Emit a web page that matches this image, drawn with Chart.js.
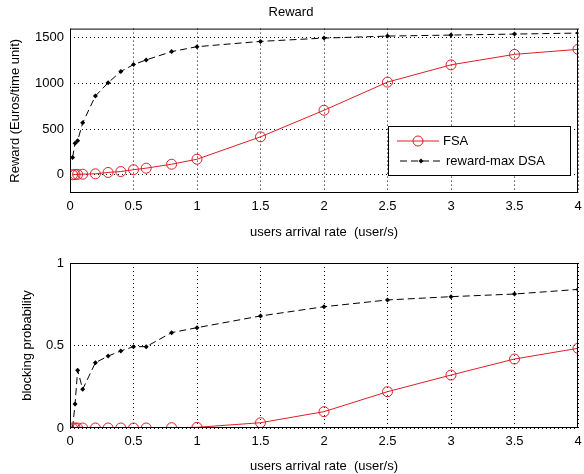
<!DOCTYPE html>
<html>
<head>
<meta charset="utf-8">
<script src="https://cdn.jsdelivr.net/npm/chart.js@4"></script>
<style>
  html, body { margin: 0; padding: 0; background: #fff; }
  .box { position: absolute; left: 0; width: 584px; }
  #top { top: 0; height: 240px; }
  #bottom { top: 240px; height: 234px; }
</style>
</head>
<body>
<div class="box" id="top"><canvas id="reward-chart"></canvas></div>
<div class="box" id="bottom"><canvas id="blocking-chart"></canvas></div>
<script>
// arrival rates (user/s)
const rates = [0.02, 0.04, 0.06, 0.1, 0.2, 0.3, 0.4, 0.5, 0.6, 0.8, 1, 1.5, 2, 2.5, 3, 3.5, 4];

// reward (Euros/time unit)
const rewardFSA = [0, 2, 4, 6, 10, 25, 35, 55, 72, 115, 170, 415, 706, 1014, 1203, 1318, 1373];
const rewardDSA = [188, 344, 373, 568, 862, 1007, 1130, 1206, 1257, 1348, 1402, 1460, 1496, 1518, 1529, 1540, 1551];

// blocking probability
const blockFSA = [0, 0, 0, 0, 0, 0, 0, 0, 0, 0.002, 0.004, 0.032, 0.099, 0.22, 0.321, 0.418, 0.483];
const blockDSA = [0, 0.145, 0.35, 0.235, 0.396, 0.436, 0.467, 0.493, 0.493, 0.578, 0.608, 0.679, 0.735, 0.776, 0.796, 0.812, 0.84];

const xTicks = [0, 0.5, 1, 1.5, 2, 2.5, 3, 3.5, 4];
const rewardTicks = [0, 500, 1000, 1500];
const blockTicks = [0, 0.5, 1];

const FONT = "'Liberation Sans', Arial, sans-serif";
const RED = "rgb(222, 30, 40)";

function toPoints(xs, ys) {
  return xs.map((x, i) => ({ x: x, y: ys[i] }));
}

function fsaSet(values) {
  return {
    label: "FSA",
    data: toPoints(rates, values),
    borderColor: RED,
    backgroundColor: "rgba(0,0,0,0)",
    borderWidth: 1,
    pointStyle: "circle",
    pointRadius: 5,
    pointBorderWidth: 1,
    pointBorderColor: RED,
    showLine: true,
  };
}

function dsaSet(values) {
  return {
    label: "reward-max DSA",
    data: toPoints(rates, values),
    borderColor: "#000",
    backgroundColor: "#000",
    borderWidth: 1,
    borderDash: [7, 4],
    pointStyle: "rectRot",
    pointRadius: 2.5,
    pointBorderWidth: 0,
    showLine: true,
  };
}

// box around the plot area, like matlab
const frame = {
  id: "frame",
  afterDraw(chart) {
    const { ctx, chartArea: a } = chart;
    ctx.save();
    ctx.strokeStyle = "#000";
    ctx.lineWidth = 1;
    ctx.strokeRect(a.left + 0.5, a.top + 0.5, a.right - a.left - 1, a.bottom - a.top - 1);
    ctx.restore();
  },
};

// legend drawn inside the plot area
const boxLegend = {
  id: "boxLegend",
  afterDraw(chart) {
    const { ctx } = chart;
    const x = 388, y = 126, w = 183, h = 50;
    ctx.save();
    ctx.fillStyle = "#fff";
    ctx.fillRect(x, y, w, h);
    ctx.strokeStyle = "#000";
    ctx.lineWidth = 1;
    ctx.strokeRect(x + 0.5, y + 0.5, w - 1, h - 1);
    ctx.font = "13px " + FONT;
    ctx.textBaseline = "middle";

    // FSA
    let ly = y + 15;
    ctx.strokeStyle = RED;
    ctx.beginPath();
    ctx.moveTo(x + 9, ly);
    ctx.lineTo(x + 51, ly);
    ctx.stroke();
    ctx.beginPath();
    ctx.arc(x + 30, ly, 5, 0, Math.PI * 2);
    ctx.stroke();
    ctx.fillStyle = "#000";
    ctx.fillText("FSA", x + 55, ly);

    // DSA
    ly = y + 35;
    ctx.strokeStyle = "#000";
    ctx.setLineDash([7, 4]);
    ctx.beginPath();
    ctx.moveTo(x + 12, ly);
    ctx.lineTo(x + 54, ly);
    ctx.stroke();
    ctx.setLineDash([]);
    ctx.beginPath();
    ctx.moveTo(x + 33, ly - 2.5);
    ctx.lineTo(x + 35.5, ly);
    ctx.lineTo(x + 33, ly + 2.5);
    ctx.lineTo(x + 30.5, ly);
    ctx.closePath();
    ctx.fill();
    ctx.fillText("reward-max DSA", x + 58, ly);
    ctx.restore();
  },
};

function makeScales(yTitle, yMin, yMax, yTicks, yWidth, xHeight, yTitlePad) {
  const grid = {
    color: "#000",
    lineWidth: 1,
    drawTicks: false,
  };
  const tickFont = { family: FONT, size: 13 };
  return {
    x: {
      type: "linear",
      min: 0,
      max: 4,
      afterBuildTicks: (s) => { s.ticks = xTicks.map((v) => ({ value: v })); },
      afterFit: (s) => {
        s.height = xHeight;
        s.paddingLeft = 0;
        s.paddingRight = 0;
      },
      border: { display: false, dash: [1, 3] },
      grid: grid,
      ticks: {
        color: "#000",
        font: tickFont,
        padding: 6,
        maxRotation: 0,
        callback: (v) => String(v),
      },
      title: {
        display: true,
        text: "users arrival rate  (user/s)",
        color: "#000",
        font: tickFont,
        padding: { top: 0, bottom: 0 },
      },
    },
    y: {
      type: "linear",
      min: yMin,
      max: yMax,
      afterBuildTicks: (s) => { s.ticks = yTicks.map((v) => ({ value: v })); },
      afterFit: (s) => {
        s.width = yWidth;
        s.paddingTop = 0;
        s.paddingBottom = 0;
      },
      border: { display: false, dash: [1, 3] },
      grid: grid,
      ticks: {
        color: "#000",
        font: tickFont,
        padding: 6,
        callback: (v) => String(v),
      },
      title: {
        display: true,
        text: yTitle,
        color: "#000",
        font: tickFont,
        padding: yTitlePad,
      },
    },
  };
}

const baseOptions = {
  responsive: true,
  maintainAspectRatio: false,
  animation: false,
  events: [],
};

new Chart(document.querySelector("#reward-chart").getContext("2d"), {
  type: "scatter",
  data: { datasets: [fsaSet(rewardFSA), dsaSet(rewardDSA)] },
  options: {
    ...baseOptions,
    layout: { padding: { left: 0, right: 2, top: 0, bottom: 0 } },
    plugins: {
      legend: { display: false },
      tooltip: { enabled: false },
      title: {
        display: true,
        text: "Reward",
        color: "#000",
        font: { family: FONT, size: 13, weight: "normal" },
        padding: { top: 5, bottom: 8 },
      },
    },
    scales: makeScales("Reward (Euros/time unit)", -200, 1600, rewardTicks, 70, 47, { top: 8, bottom: 0 }),
  },
  plugins: [frame, boxLegend],
});

new Chart(document.querySelector("#blocking-chart").getContext("2d"), {
  type: "scatter",
  data: { datasets: [fsaSet(blockFSA), dsaSet(blockDSA)] },
  options: {
    ...baseOptions,
    layout: { padding: { left: 0, right: 2, top: 23, bottom: 0 } },
    plugins: {
      legend: { display: false },
      tooltip: { enabled: false },
    },
    scales: makeScales("blocking probability", 0, 1, blockTicks, 70, 46, { top: 20, bottom: 0 }),
  },
  plugins: [frame],
});
</script>
</body>
</html>
